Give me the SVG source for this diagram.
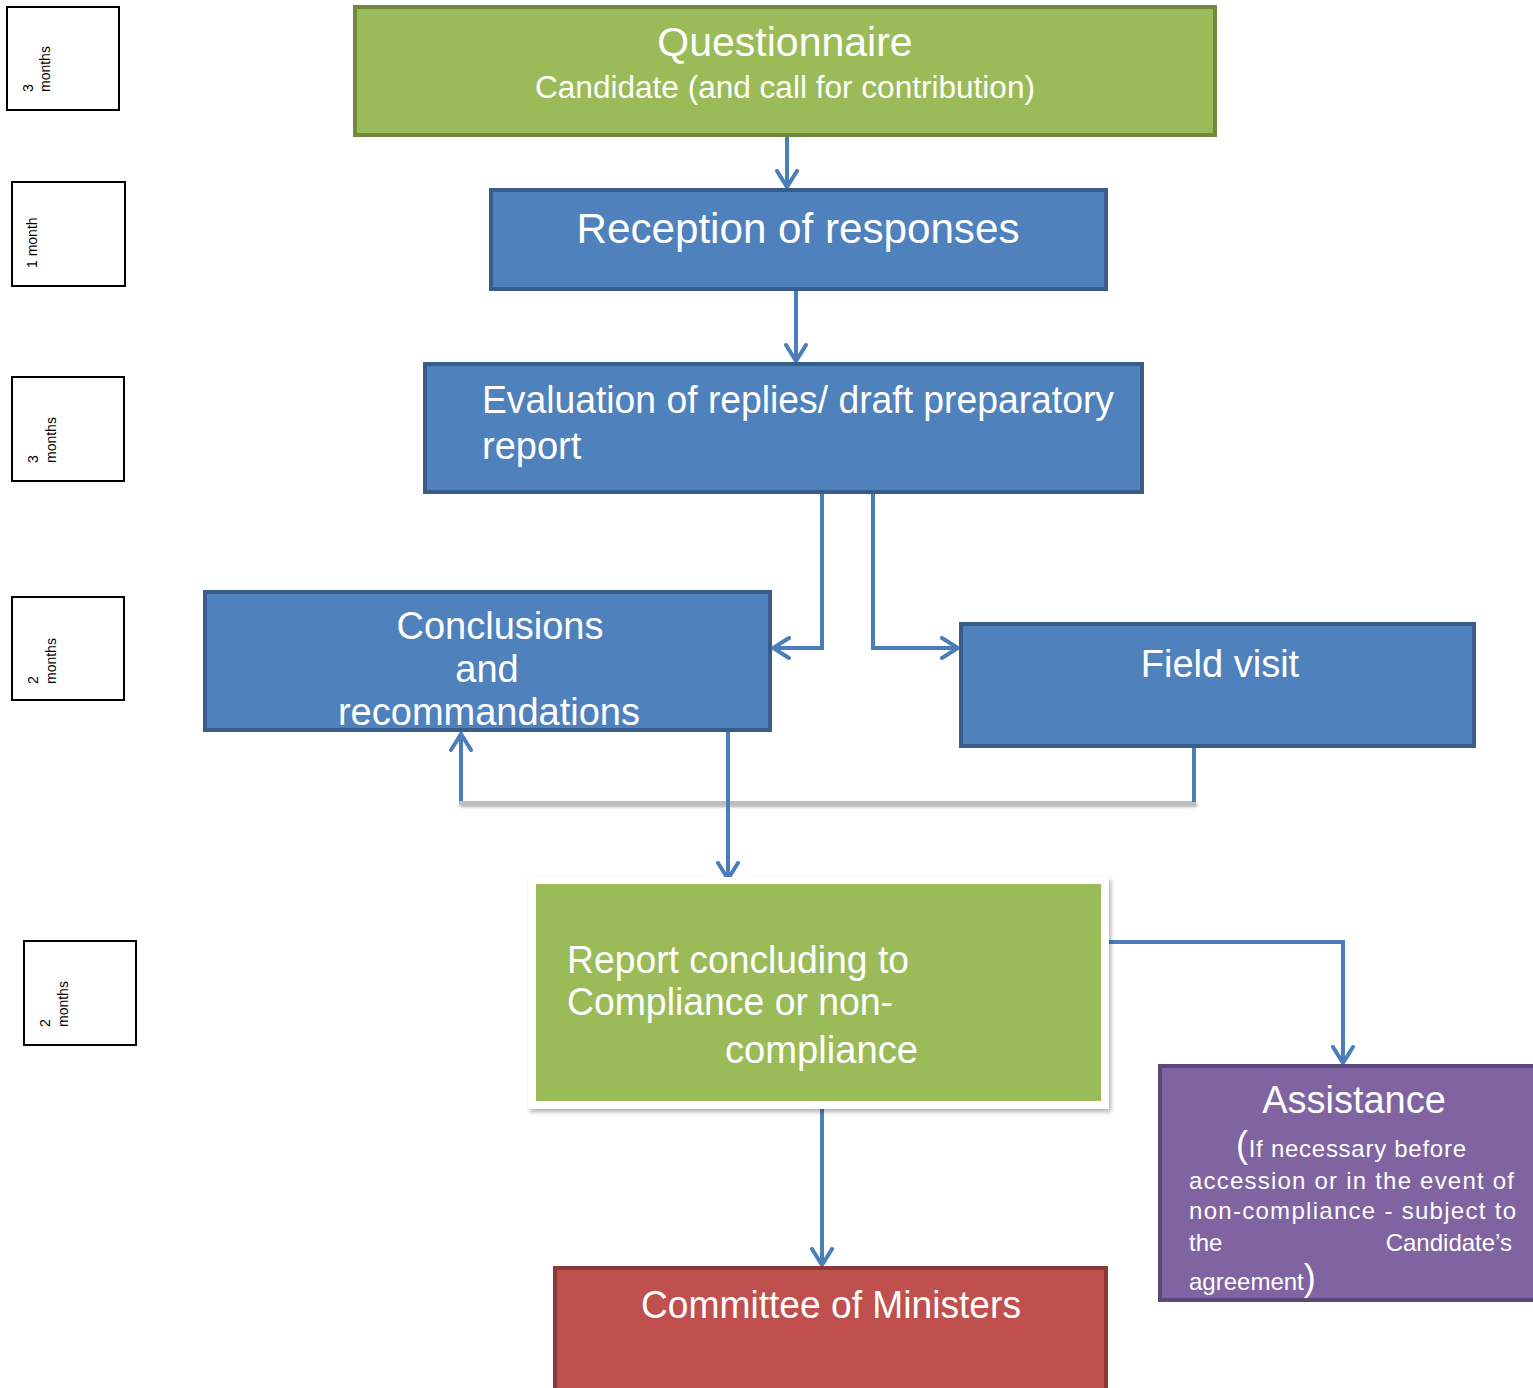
<svg xmlns="http://www.w3.org/2000/svg" width="1533" height="1388" viewBox="0 0 1533 1388">
<defs>
<marker id="arr" viewBox="0 0 20 24" refX="18" refY="12" markerWidth="20" markerHeight="24" markerUnits="userSpaceOnUse" orient="auto">
<path d="M2,2 L18,12 L2,22" fill="none" stroke="#4A7EBB" stroke-width="4" stroke-linecap="round"/>
</marker>
<filter id="sh" x="-5%" y="-5%" width="115%" height="115%">
<feDropShadow dx="2" dy="3" stdDeviation="2" flood-color="#000" flood-opacity="0.3"/>
</filter>
<filter id="lsh" filterUnits="userSpaceOnUse" x="440" y="790" width="780" height="30">
<feDropShadow dx="1" dy="2" stdDeviation="1.5" flood-color="#000" flood-opacity="0.3"/>
</filter>
</defs>
<style>
.t{font-family:"Liberation Sans",Arial,sans-serif;fill:#fff}
.m{font-family:"Liberation Sans",Arial,sans-serif;fill:#000;font-size:14px}
.tb{fill:#fff;stroke:#000;stroke-width:2}
.blue{fill:#4F81BD;stroke:#385D8A;stroke-width:4}
.con{fill:none;stroke:#4A7EBB;stroke-width:4}
</style>
<rect width="1533" height="1388" fill="#fff"/>

<g id="time1"><rect class="tb" x="7" y="7" width="112" height="103"/>
<text class="m" transform="translate(33,92) rotate(-90)">3</text>
<text class="m" transform="translate(50,92) rotate(-90)">months</text></g>
<g id="time2"><rect class="tb" x="12" y="182" width="113" height="104"/>
<text class="m" transform="translate(37,268) rotate(-90)">1 month</text></g>
<g id="time3"><rect class="tb" x="12" y="377" width="112" height="104"/>
<text class="m" transform="translate(38,463) rotate(-90)">3</text>
<text class="m" transform="translate(56,463) rotate(-90)">months</text></g>
<g id="time4"><rect class="tb" x="12" y="597" width="112" height="103"/>
<text class="m" transform="translate(38,684) rotate(-90)">2</text>
<text class="m" transform="translate(56,684) rotate(-90)">months</text></g>
<g id="time5"><rect class="tb" x="24" y="941" width="112" height="104"/>
<text class="m" transform="translate(50,1027) rotate(-90)">2</text>
<text class="m" transform="translate(68,1027) rotate(-90)">months</text></g>

<g id="connectors">
<line class="con" x1="787" y1="137" x2="787" y2="187" marker-end="url(#arr)"/>
<line class="con" x1="796" y1="291" x2="796" y2="361" marker-end="url(#arr)"/>
<polyline class="con" points="822,494 822,648 773,648" marker-end="url(#arr)"/>
<polyline class="con" points="873,494 873,648 958,648" marker-end="url(#arr)"/>
<rect x="459" y="801" width="737" height="4" fill="#BFBFBF" filter="url(#lsh)"/>
<line class="con" x1="1194" y1="748" x2="1194" y2="802"/>
<line class="con" x1="461" y1="801" x2="461" y2="734" marker-end="url(#arr)"/>
<line class="con" x1="728" y1="732" x2="728" y2="879" marker-end="url(#arr)"/>
<polyline class="con" points="1107,942 1343,942 1343,1063" marker-end="url(#arr)"/>
<line class="con" x1="822" y1="1107" x2="822" y2="1265" marker-end="url(#arr)"/>
</g>

<g id="questionnaire">
<rect x="355" y="7" width="860" height="128" fill="#9BBB59" stroke="#71893F" stroke-width="4"/>
<text class="t" x="785" y="56" font-size="41" text-anchor="middle">Questionnaire</text>
<text class="t" x="785" y="98" font-size="31" text-anchor="middle" textLength="500" lengthAdjust="spacingAndGlyphs">Candidate (and call for contribution)</text>
</g>
<g id="reception">
<rect class="blue" x="491" y="190" width="615" height="99"/>
<text class="t" x="798" y="243" font-size="42" text-anchor="middle" textLength="443" lengthAdjust="spacingAndGlyphs">Reception of responses</text>
</g>
<g id="evaluation">
<rect class="blue" x="425" y="364" width="717" height="128"/>
<text class="t" x="482" y="413" font-size="38" textLength="632" lengthAdjust="spacingAndGlyphs">Evaluation of replies/ draft preparatory</text>
<text class="t" x="482" y="459" font-size="38">report</text>
</g>
<g id="conclusions">
<rect class="blue" x="205" y="592" width="565" height="138"/>
<text class="t" x="500" y="639" font-size="38" text-anchor="middle">Conclusions</text>
<text class="t" x="487" y="682" font-size="38" text-anchor="middle">and</text>
<text class="t" x="489" y="725" font-size="38" text-anchor="middle">recommandations</text>
</g>
<g id="fieldvisit">
<rect class="blue" x="961" y="624" width="513" height="122"/>
<text class="t" x="1220" y="677" font-size="38" text-anchor="middle">Field visit</text>
</g>
<g id="report">
<rect x="528" y="877" width="581" height="232" fill="#fff" filter="url(#sh)"/>
<rect x="536" y="884" width="565" height="217" fill="#9BBB59"/>
<text class="t" x="567" y="973" font-size="38" textLength="342" lengthAdjust="spacingAndGlyphs">Report concluding to</text>
<text class="t" x="567" y="1015" font-size="38" textLength="326" lengthAdjust="spacingAndGlyphs">Compliance or non-</text>
<text class="t" x="725" y="1063" font-size="38" textLength="193" lengthAdjust="spacingAndGlyphs">compliance</text>
</g>
<g id="assistance">
<rect x="1160" y="1066" width="380" height="234" fill="#8064A2" stroke="#5C4776" stroke-width="4"/>
<text class="t" x="1354" y="1113" font-size="38" text-anchor="middle">Assistance</text>
<text class="t" x="1236" y="1157" font-size="24" textLength="230" lengthAdjust="spacing"><tspan font-size="36">(</tspan>If necessary before</text>
<text class="t" x="1189" y="1189" font-size="24" textLength="325" lengthAdjust="spacing">accession or in the event of</text>
<text class="t" x="1189" y="1219" font-size="24" textLength="327" lengthAdjust="spacing">non-compliance  - subject to</text>
<text class="t" x="1189" y="1251" font-size="24">the</text>
<text class="t" x="1512" y="1251" font-size="24" text-anchor="end">Candidate’s</text>
<text class="t" x="1189" y="1290" font-size="24">agreement<tspan font-size="36">)</tspan></text>
</g>
<g id="committee">
<rect x="555" y="1268" width="551" height="130" fill="#C0504D" stroke="#8C3836" stroke-width="4"/>
<text class="t" x="831" y="1318" font-size="38" text-anchor="middle" textLength="380" lengthAdjust="spacingAndGlyphs">Committee of Ministers</text>
</g>
</svg>
